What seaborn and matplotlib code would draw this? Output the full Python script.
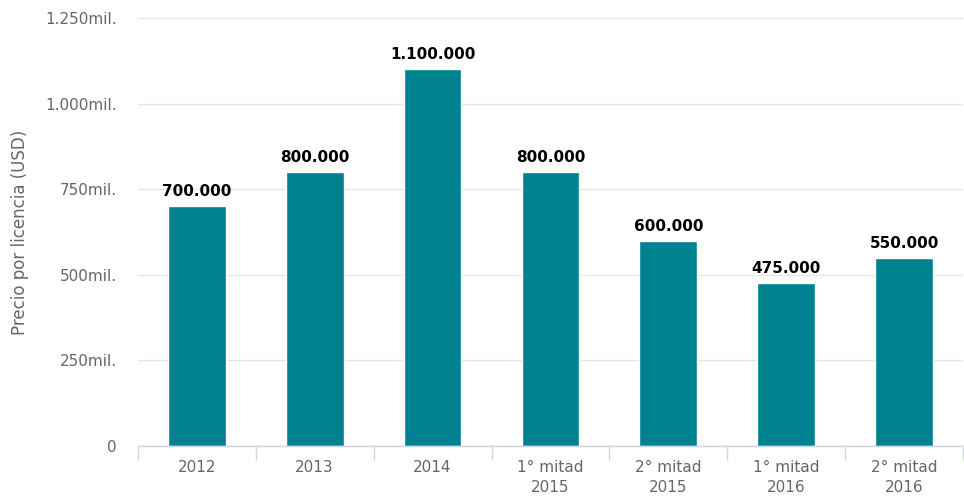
import matplotlib
matplotlib.use("Agg")
import matplotlib.pyplot as plt
import seaborn as sns
import pandas as pd
import numpy as np

categories = ["2012", "2013", "2014", "1° mitad\n2015", "2° mitad\n2015",
              "1° mitad\n2016", "2° mitad\n2016"]
prices = [700000, 800000, 1100000, 800000, 600000, 475000, 550000]
y_ticks = [0, 250000, 500000, 750000, 1000000, 1250000]
y_tick_labels = ["0", "250mil.", "500mil.", "750mil.", "1.000mil.", "1.250mil."]

sns.set_theme(style="white")
plt.rcParams['font.family'] = ['DejaVu Sans']

df = pd.DataFrame({"periodo": categories, "precio": prices})

fig = plt.figure(figsize=(9.64, 4.96), dpi=100)
ax = fig.add_axes([0.143, 0.1008, 0.856, 0.8629])

sns.barplot(data=df, x="periodo", y="precio", color="#00818f",
            saturation=1, width=0.49, ax=ax)

ax.set_ylim(0, 1250000)
ax.set_xlim(-0.5, len(categories) - 0.5)
ax.set_yticks(y_ticks)
ax.set_yticklabels(y_tick_labels)
ax.yaxis.grid(True, color="#e6e6e6", linewidth=1)
ax.set_axisbelow(True)

for s in ["top", "right", "left"]:
    ax.spines[s].set_visible(False)
ax.spines["bottom"].set_color("#ccd6eb")
ax.spines["bottom"].set_linewidth(1)

ax.tick_params(axis="y", length=0, pad=15, labelsize=11, labelcolor="#666666")
ax.tick_params(axis="x", which="major", length=0, pad=10, labelsize=11,
               labelcolor="#666666")
for lbl in ax.get_xticklabels():
    lbl.set_linespacing(1.4)
ax.set_xticks(np.arange(-0.5, len(categories)), minor=True)
ax.tick_params(axis="x", which="minor", bottom=True, length=10,
               color="#ccd6eb", width=1)

ax.set_xlabel("")
ax.set_ylabel("Precio por licencia (USD)", fontsize=12, color="#666666",
              labelpad=12)

for i, v in enumerate(prices):
    label = f"{v:,}".replace(",", ".")
    ax.annotate(label, (i, v), xytext=(0, 5), textcoords="offset points",
                ha="center", va="bottom", fontsize=11, fontweight="bold",
                color="#000000")

fig.savefig("out.png", dpi=100)
